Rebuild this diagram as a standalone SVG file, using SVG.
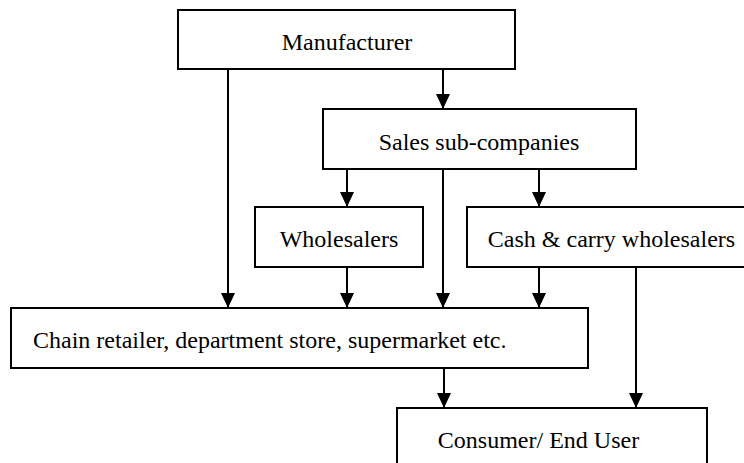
<svg xmlns="http://www.w3.org/2000/svg" width="744" height="463" viewBox="0 0 744 463">
<style>
.box{fill:#fff;stroke:#000;stroke-width:2}
.t{font-family:"Liberation Serif","Times New Roman",serif;font-size:24px;fill:#000}
.c{text-anchor:middle}
.ln{stroke:#000;stroke-width:2;fill:none;marker-end:url(#ah)}
.pl{stroke:#000;stroke-width:2;fill:none}
</style>
<defs>
<marker id="ah" markerUnits="userSpaceOnUse" markerWidth="15" markerHeight="15" refX="15" refY="7" orient="auto" viewBox="0 0 15 14">
<path d="M0,0 L15,7 L0,14 z" fill="#000"/>
</marker>
</defs>
<rect width="744" height="463" fill="#fff"/>
<g id="connectors">
<line class="ln" x1="228" y1="69" x2="228" y2="308"/>
<line class="ln" x1="443" y1="69" x2="443" y2="109"/>
<line class="ln" x1="347" y1="169" x2="347" y2="207"/>
<line class="ln" x1="443" y1="169" x2="443" y2="308"/>
<line class="ln" x1="539" y1="169" x2="539" y2="207"/>
<line class="ln" x1="347" y1="267" x2="347" y2="308"/>
<line class="ln" x1="539" y1="267" x2="539" y2="308"/>
<line class="ln" x1="636" y1="267" x2="636" y2="408"/>
<line class="ln" x1="444" y1="368" x2="444" y2="408"/>
</g>
<g id="manufacturer">
<rect class="box" x="178" y="10" width="337" height="59"/>
<text class="t c" x="347" y="50">Manufacturer</text>
</g>
<g id="sales">
<rect class="box" x="323" y="109" width="313" height="60"/>
<text class="t c" x="479" y="150">Sales sub-companies</text>
</g>
<g id="wholesalers">
<rect class="box" x="255" y="207" width="168" height="60"/>
<text class="t c" x="339" y="247">Wholesalers</text>
</g>
<g id="cashcarry">
<rect class="box" x="467" y="207" width="290" height="60"/>
<text class="t c" x="611.5" y="247">Cash &amp; carry wholesalers</text>
</g>
<g id="chain">
<rect class="box" x="11" y="308" width="577" height="60"/>
<text class="t" x="33" y="348">Chain retailer, department store, supermarket etc.</text>
</g>
<g id="consumer">
<rect class="box" x="397" y="408" width="310" height="70"/>
<text class="t c" x="538.5" y="448">Consumer/ End User</text>
</g>
</svg>
